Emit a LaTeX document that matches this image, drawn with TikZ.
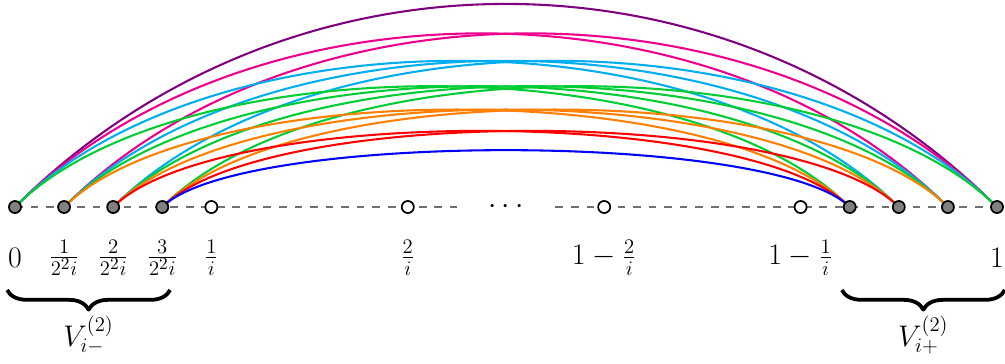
\documentclass[tikz,border=0pt]{standalone}
\usetikzlibrary{decorations.pathreplacing, backgrounds}
\definecolor{arcblue}{HTML}{0000FF}
\definecolor{arcred}{HTML}{FF0000}
\definecolor{arcorange}{HTML}{FF8000}
\definecolor{arcgreen}{HTML}{00CC33}
\definecolor{arccyan}{HTML}{00AEEF}
\definecolor{arcmagenta}{HTML}{EC008C}
\definecolor{arcpurple}{HTML}{7F007F}
\definecolor{dotgray}{HTML}{808080}
\definecolor{linegray}{HTML}{707070}

\begin{document}
\begin{tikzpicture}[
    line join=round,
    fullpt/.style={circle, draw=black, line width=1pt, fill=dotgray, minimum size=7pt, inner sep=0pt},
    openpt/.style={fullpt, fill=white},
    ticklabel/.style={font=\LARGE},
    bow/.style={line width=1.2pt, line cap=round, out=45, in=135},
    gapline/.style={draw=linegray, line width=1pt, dash pattern=on 4.5pt off 4.5pt},
    setbrace/.style={decorate, decoration={brace, mirror, amplitude=0.4cm}, line width=2.2pt}
]
    \useasboundingbox (-0.305,-3.177) rectangle (20.163,4.216);

    % Points on the unit interval
    \node[fullpt] (l0) at (0,0) {};
    \node[fullpt] (l1) at (1,0) {};
    \node[fullpt] (l2) at (2,0) {};
    \node[fullpt] (l3) at (3,0) {};
    \node[openpt] (h1) at (4,0) {};
    \node[openpt] (h2) at (8,0) {};
    \node[inner sep=0pt, minimum width=2cm, font=\LARGE] (dots) at (10,0) {$\cdots$};
    \node[openpt] (h3) at (12,0) {};
    \node[openpt] (h4) at (16,0) {};
    \node[fullpt] (r0) at (17,0) {};
    \node[fullpt] (r1) at (18,0) {};
    \node[fullpt] (r2) at (19,0) {};
    \node[fullpt] (r3) at (20,0) {};

    \begin{scope}[on background layer]
    % Dashed axis
    \draw[gapline] (l0.center) -- (dots.west);
    \draw[gapline] (dots.east) -- (r3.center);

    % Arcs between the two end sets
    \draw[bow, arcpurple, looseness=1.0] (l0.center) to (r3.center);
    \draw[bow, arcmagenta, looseness=0.9] (l0.center) to (r2.center);
    \draw[bow, arcmagenta, looseness=0.9] (l1.center) to (r3.center);
    \draw[bow, arccyan, looseness=0.8] (l0.center) to (r1.center);
    \draw[bow, arccyan, looseness=0.8] (l1.center) to (r2.center);
    \draw[bow, arccyan, looseness=0.8] (l2.center) to (r3.center);
    \draw[bow, arcgreen, looseness=0.7] (l0.center) to (r0.center);
    \draw[bow, arcgreen, looseness=0.7] (l1.center) to (r1.center);
    \draw[bow, arcgreen, looseness=0.7] (l2.center) to (r2.center);
    \draw[bow, arcgreen, looseness=0.7] (l3.center) to (r3.center);
    \draw[bow, arcorange, looseness=0.6] (l1.center) to (r0.center);
    \draw[bow, arcorange, looseness=0.6] (l2.center) to (r1.center);
    \draw[bow, arcorange, looseness=0.6] (l3.center) to (r2.center);
    \draw[bow, arcred, looseness=0.5] (l2.center) to (r0.center);
    \draw[bow, arcred, looseness=0.5] (l3.center) to (r1.center);
    \draw[bow, arcblue, looseness=0.4] (l3.center) to (r0.center);
    \end{scope}

    % Tick labels
    \node[ticklabel] (t0) at (0,-1.03) {$0$};
    \node[ticklabel] (t1) at (1,-1.03) {$\frac{1}{2^2i}$};
    \node[ticklabel] (t2) at (2,-1.03) {$\frac{2}{2^2i}$};
    \node[ticklabel] (t3) at (3,-1.03) {$\frac{3}{2^2i}$};
    \node[ticklabel] (t4) at (4,-1.03) {$\frac{1}{i}$};
    \node[ticklabel] (t8) at (8,-1.03) {$\frac{2}{i}$};
    \node[ticklabel] (t12) at (12,-1.03) {$1-\frac{2}{i}$};
    \node[ticklabel] (t16) at (16,-1.03) {$1-\frac{1}{i}$};
    \node[ticklabel] (t20) at (20,-1.03) {$1$};

    % Braces for the two end sets
    \draw[setbrace] (-0.16,-1.69) -- (3.16,-1.69);
    \draw[setbrace] (16.84,-1.69) -- (20.16,-1.69);
    \node[ticklabel] (vminus) at (1.5,-2.61) {$V_{i-}^{(2)}$};
    \node[ticklabel] (vplus) at (18.5,-2.61) {$V_{i+}^{(2)}$};

\end{tikzpicture}
\end{document}
